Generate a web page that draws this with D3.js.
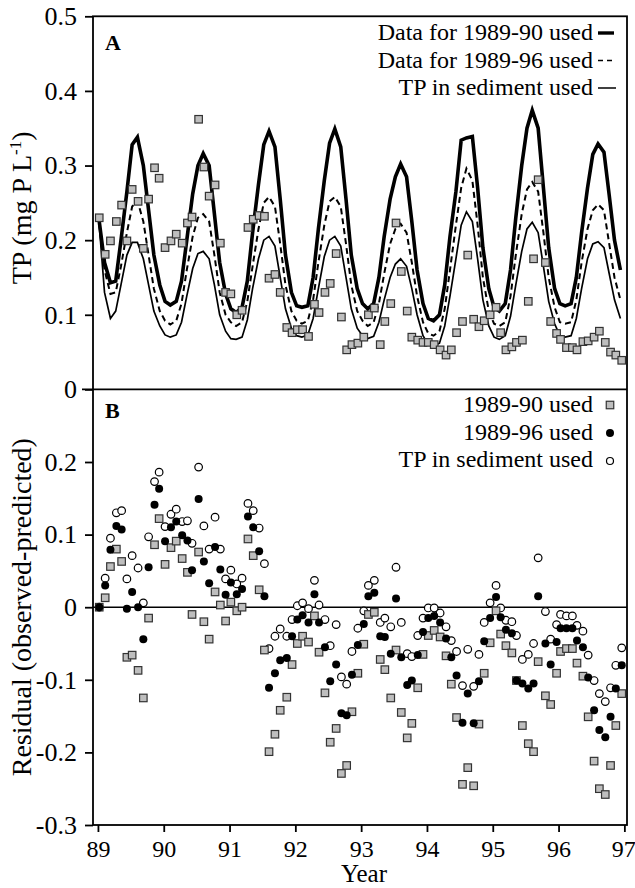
<!DOCTYPE html>
<html>
<head>
<meta charset="utf-8">
<script src="https://cdn.jsdelivr.net/npm/d3@7"></script>
<style>
  body { margin: 0; background: #fff; }
  text { font-family: "Liberation Serif", "Times New Roman", serif; fill: #000; }
</style>
</head>
<body>
<svg id="chart" width="635" height="888"></svg>
<script>
// model output, one value a month
const modelYears = [
  89.02, 89.10, 89.19, 89.27, 89.35, 89.44, 89.52, 89.60, 89.69, 89.77, 89.85, 89.94,
  90.02, 90.10, 90.19, 90.27, 90.35, 90.44, 90.52, 90.60, 90.69, 90.77, 90.85, 90.94,
  91.02, 91.10, 91.19, 91.27, 91.35, 91.44, 91.52, 91.60, 91.69, 91.77, 91.85, 91.94,
  92.02, 92.10, 92.19, 92.27, 92.35, 92.44, 92.52, 92.60, 92.69, 92.77, 92.85, 92.94,
  93.02, 93.10, 93.19, 93.27, 93.35, 93.44, 93.52, 93.60, 93.69, 93.77, 93.85, 93.94,
  94.02, 94.10, 94.19, 94.27, 94.35, 94.44, 94.52, 94.60, 94.69, 94.77, 94.85, 94.94,
  95.02, 95.10, 95.19, 95.27, 95.35, 95.44, 95.52, 95.60, 95.69, 95.77, 95.85, 95.94,
  96.02, 96.10, 96.19, 96.27, 96.35, 96.44, 96.52, 96.60, 96.69, 96.77, 96.85, 96.94
];
const model8990 = [
  0.225, 0.170, 0.143, 0.145, 0.200, 0.265, 0.328, 0.338, 0.300, 0.240, 0.180, 0.140,
  0.118, 0.113, 0.118, 0.145, 0.200, 0.262, 0.300, 0.316, 0.300, 0.235, 0.170, 0.128,
  0.108, 0.103, 0.110, 0.145, 0.210, 0.275, 0.328, 0.346, 0.325, 0.255, 0.180, 0.130,
  0.112, 0.110, 0.112, 0.150, 0.215, 0.280, 0.330, 0.349, 0.325, 0.255, 0.180, 0.135,
  0.115, 0.108, 0.115, 0.150, 0.205, 0.255, 0.285, 0.302, 0.285, 0.225, 0.160, 0.115,
  0.095, 0.092, 0.100, 0.140, 0.205, 0.265, 0.334, 0.337, 0.339, 0.270, 0.190, 0.135,
  0.110, 0.105, 0.115, 0.160, 0.230, 0.300, 0.350, 0.374, 0.350, 0.270, 0.190, 0.135,
  0.115, 0.112, 0.115, 0.150, 0.210, 0.270, 0.315, 0.329, 0.318, 0.260, 0.200, 0.160
];
const model8996 = [
  0.222, 0.160, 0.128, 0.130, 0.165, 0.210, 0.245, 0.253, 0.225, 0.180, 0.135, 0.105,
  0.092, 0.087, 0.092, 0.115, 0.160, 0.205, 0.230, 0.235, 0.225, 0.180, 0.130, 0.100,
  0.090, 0.085, 0.090, 0.118, 0.165, 0.215, 0.250, 0.258, 0.245, 0.195, 0.140, 0.105,
  0.092, 0.088, 0.092, 0.120, 0.170, 0.220, 0.252, 0.258, 0.245, 0.195, 0.140, 0.105,
  0.092, 0.085, 0.090, 0.115, 0.155, 0.195, 0.215, 0.222, 0.210, 0.170, 0.125, 0.090,
  0.075, 0.072, 0.078, 0.108, 0.160, 0.220, 0.270, 0.296, 0.280, 0.220, 0.150, 0.105,
  0.088, 0.085, 0.090, 0.125, 0.180, 0.235, 0.268, 0.278, 0.265, 0.210, 0.150, 0.110,
  0.090, 0.088, 0.090, 0.120, 0.170, 0.215, 0.240, 0.248, 0.240, 0.195, 0.150, 0.120
];
const modelSediment = [
  0.220, 0.130, 0.095, 0.105, 0.140, 0.180, 0.197, 0.197, 0.175, 0.140, 0.105, 0.085,
  0.073, 0.070, 0.073, 0.090, 0.125, 0.162, 0.182, 0.185, 0.175, 0.140, 0.100, 0.078,
  0.068, 0.067, 0.070, 0.093, 0.135, 0.175, 0.200, 0.205, 0.192, 0.150, 0.108, 0.082,
  0.072, 0.070, 0.073, 0.095, 0.135, 0.178, 0.200, 0.205, 0.192, 0.150, 0.108, 0.082,
  0.072, 0.068, 0.071, 0.090, 0.120, 0.150, 0.168, 0.175, 0.165, 0.135, 0.100, 0.072,
  0.060, 0.058, 0.062, 0.085, 0.125, 0.175, 0.220, 0.238, 0.225, 0.175, 0.120, 0.085,
  0.070, 0.067, 0.072, 0.098, 0.140, 0.185, 0.215, 0.224, 0.210, 0.165, 0.118, 0.088,
  0.072, 0.070, 0.072, 0.095, 0.135, 0.175, 0.195, 0.198, 0.190, 0.155, 0.120, 0.095
];

// sampling dates and observed TP
const obsYears = [
  89.02, 89.11, 89.19, 89.28, 89.36, 89.44, 89.52, 89.61, 89.69, 89.77, 89.86, 89.93,
  90.02, 90.11, 90.19, 90.28, 90.36, 90.43, 90.53, 90.61, 90.69, 90.78, 90.86, 90.94,
  91.02, 91.11, 91.19, 91.28, 91.36, 91.45, 91.53, 91.60, 91.69, 91.77, 91.87, 91.95,
  92.03, 92.11, 92.20, 92.29, 92.36, 92.45, 92.53, 92.62, 92.70, 92.78, 92.86, 92.95,
  93.04, 93.11, 93.20, 93.29, 93.36, 93.45, 93.53, 93.61, 93.70, 93.77, 93.86, 93.94,
  94.02, 94.11, 94.20, 94.29, 94.37, 94.45, 94.54, 94.62, 94.71, 94.79, 94.87, 94.96,
  95.05, 95.12, 95.20, 95.29, 95.36, 95.45, 95.54, 95.62, 95.69, 95.80, 95.88, 95.97,
  96.03, 96.12, 96.21, 96.28, 96.37, 96.45, 96.54, 96.62, 96.71, 96.79, 96.87, 96.96
];
const obsTP = [
  0.230, 0.181, 0.199, 0.225, 0.247, 0.199, 0.268, 0.252, 0.189, 0.255, 0.297, 0.283,
  0.190, 0.199, 0.208, 0.196, 0.223, 0.231, 0.362, 0.298, 0.259, 0.274, 0.196, 0.130,
  0.128, 0.100, 0.106, 0.217, 0.228, 0.233, 0.232, 0.149, 0.154, 0.130, 0.083, 0.076,
  0.080, 0.080, 0.071, 0.114, 0.103, 0.130, 0.142, 0.182, 0.097, 0.053, 0.060, 0.062,
  0.070, 0.100, 0.109, 0.060, 0.091, 0.115, 0.223, 0.158, 0.105, 0.070, 0.066, 0.063,
  0.063, 0.060, 0.053, 0.046, 0.053, 0.076, 0.091, 0.180, 0.094, 0.084, 0.092, 0.100,
  0.110, 0.076, 0.053, 0.057, 0.063, 0.066, 0.118, 0.175, 0.281, 0.170, 0.091, 0.075,
  0.067, 0.056, 0.056, 0.053, 0.064, 0.065, 0.070, 0.078, 0.063, 0.050, 0.046, 0.039
];

// residuals (observed - predicted)
const resid8990 = [
  0.000, 0.013, 0.056, 0.080, 0.063, -0.069, -0.066, -0.087, -0.125, -0.015, 0.086, 0.122,
  0.059, 0.082, 0.091, 0.067, 0.048, -0.010, 0.076, -0.020, -0.044, 0.021, 0.003, -0.019,
  0.007, -0.005, 0.000, 0.094, 0.071, 0.024, -0.059, -0.199, -0.175, -0.142, -0.124, -0.079,
  -0.050, -0.040, -0.048, -0.012, -0.062, -0.118, -0.186, -0.167, -0.229, -0.218, -0.144, -0.091,
  -0.051, -0.010, -0.007, -0.072, -0.086, -0.125, -0.059, -0.145, -0.180, -0.160, -0.111, -0.065,
  -0.039, -0.032, -0.041, -0.067, -0.106, -0.152, -0.244, -0.221, -0.246, -0.161, -0.091, -0.049,
  -0.005, -0.037, -0.053, -0.063, -0.101, -0.163, -0.188, -0.199, -0.075, -0.122, -0.134, -0.091,
  -0.061, -0.057, -0.057, -0.077, -0.095, -0.151, -0.212, -0.250, -0.258, -0.218, -0.163, -0.119
];
const resid8996 = [
  0.000, 0.030, 0.079, 0.112, 0.107, -0.002, 0.021, 0.000, -0.044, 0.055, 0.141, 0.163,
  0.091, 0.110, 0.118, 0.099, 0.092, 0.051, 0.149, 0.063, 0.033, 0.083, 0.052, 0.017,
  0.034, 0.018, 0.025, 0.125, 0.110, 0.077, 0.015, -0.111, -0.091, -0.073, -0.070, -0.040,
  -0.017, -0.011, -0.021, 0.018, -0.021, -0.055, -0.102, -0.079, -0.146, -0.149, -0.093, -0.052,
  -0.023, 0.015, 0.020, -0.040, -0.041, -0.064, 0.012, -0.069, -0.107, -0.101, -0.066, -0.034,
  -0.015, -0.012, -0.021, -0.043, -0.069, -0.094, -0.159, -0.119, -0.160, -0.102, -0.047, -0.015,
  0.014, -0.014, -0.031, -0.036, -0.101, -0.105, -0.112, -0.105, 0.015, -0.050, -0.079, -0.048,
  -0.029, -0.029, -0.029, -0.046, -0.055, -0.097, -0.142, -0.169, -0.179, -0.151, -0.112, -0.080
];
const residSediment = [
  0.000, 0.040, 0.095, 0.130, 0.133, 0.039, 0.071, 0.054, 0.006, 0.097, 0.173, 0.186,
  0.111, 0.128, 0.135, 0.118, 0.119, 0.088, 0.193, 0.112, 0.080, 0.124, 0.080, 0.039,
  0.051, 0.032, 0.040, 0.143, 0.133, 0.109, 0.060, -0.057, -0.040, -0.030, -0.040, -0.017,
  0.002, 0.006, -0.002, 0.037, 0.003, -0.017, -0.053, -0.024, -0.096, -0.106, -0.061, -0.029,
  -0.005, 0.030, 0.037, -0.021, -0.015, -0.027, 0.055, -0.021, -0.064, -0.068, -0.039, -0.015,
  -0.001, -0.001, -0.008, -0.027, -0.046, -0.061, -0.108, -0.058, -0.109, -0.065, -0.021, 0.006,
  0.030, -0.001, -0.018, -0.020, -0.039, -0.072, -0.065, -0.050, 0.068, -0.006, -0.044, -0.024,
  -0.010, -0.012, -0.012, -0.025, -0.033, -0.066, -0.101, -0.119, -0.130, -0.111, -0.080, -0.056
];

const yearTicks = [89, 90, 91, 92, 93, 94, 95, 96, 97];
const tpTicks = [0, 0.1, 0.2, 0.3, 0.4, 0.5];
const residTicks = [-0.3, -0.2, -0.1, 0, 0.1, 0.2];
const linesLegend = ["Data for 1989-90 used", "Data for 1989-96 used", "TP in sediment used"];
const pointsLegend = ["1989-90 used", "1989-96 used", "TP in sediment used"];

const svg = d3.select("#chart");
const left = 93, right = 627, topA = 16.3, split = 389.4, bottomB = 825;
const fs = 24;

const x = d3.scaleLinear().domain([88.925, 97.04]).range([left, right]);
const yA = d3.scaleLinear().domain([0, 0.5]).range([split, topA]);
const yB = d3.scaleLinear().domain([-0.3, 0.3]).range([bottomB, split]);

// frame round both panels
svg.append("rect")
  .attr("x", left).attr("y", topA)
  .attr("width", right - left).attr("height", bottomB - topA)
  .attr("fill", "none").attr("stroke", "#000").attr("stroke-width", 1.8);

function styleAxis(size) {
  return g => {
    g.select(".domain").remove();
    g.selectAll(".tick line").attr("stroke", "#000").attr("stroke-width", 1.8);
    g.selectAll(".tick text")
      .attr("font-size", size)
      .attr("font-family", "'Liberation Serif', 'Times New Roman', serif");
  };
}
// plain hyphen for negatives, like the printed figure
const fmt = d => d === 0 ? "0" : d3.format(".1f")(d).replace("\u2212", "-");

svg.append("g")
  .attr("transform", `translate(${left},0)`)
  .call(d3.axisLeft(yA).tickValues(tpTicks).tickSize(8).tickPadding(8).tickFormat(fmt))
  .call(styleAxis(26));

svg.append("g")
  .attr("transform", `translate(${left},0)`)
  .call(d3.axisLeft(yB).tickValues(residTicks).tickSize(8).tickPadding(8).tickFormat(fmt))
  .call(styleAxis(26));

const xAxis = svg.append("g")
  .attr("transform", `translate(0,${bottomB})`)
  .call(d3.axisBottom(x).tickValues(yearTicks).tickSize(7).tickPadding(8).tickFormat(d3.format("d")))
  .call(styleAxis(fs));
// last label sits on the page edge
xAxis.selectAll(".tick text").filter(d => d === 97).attr("text-anchor", "end").attr("x", 11);

// panel divider and the zero line of panel B
svg.append("line")
  .attr("x1", left - 11).attr("x2", right)
  .attr("y1", split).attr("y2", split)
  .attr("stroke", "#000").attr("stroke-width", 1.8);
svg.append("line")
  .attr("x1", left).attr("x2", right)
  .attr("y1", yB(0)).attr("y2", yB(0))
  .attr("stroke", "#000").attr("stroke-width", 1.6);

// axis titles
svg.append("text")
  .attr("transform", `translate(31,${(topA + split) / 2 + 5}) rotate(-90)`)
  .attr("text-anchor", "middle")
  .attr("font-size", 28)
  .html('TP (mg P L<tspan dy="-10" font-size="17">-1</tspan><tspan dy="10">)</tspan>');

svg.append("text")
  .attr("transform", `translate(31,${(split + bottomB) / 2}) rotate(-90)`)
  .attr("text-anchor", "middle")
  .attr("font-size", 28)
  .text("Residual (observed-predicted)");

svg.append("text")
  .attr("x", (left + right) / 2 + 4).attr("y", 882)
  .attr("text-anchor", "middle")
  .attr("font-size", 25)
  .text("Year");

svg.append("text").attr("x", 105).attr("y", 50)
  .attr("font-size", 22).attr("font-weight", "bold").text("A");
svg.append("text").attr("x", 105).attr("y", 418)
  .attr("font-size", 22).attr("font-weight", "bold").text("B");

// panel A: model curves
const modelData = [
  { values: model8990, width: 3.6, dash: null },
  { values: model8996, width: 2, dash: "6,4" },
  { values: modelSediment, width: 1.7, dash: null }
];
const line = d3.line().x(d => x(d[0])).y(d => yA(d[1]));

svg.append("g")
  .selectAll("path")
  .data(modelData)
  .join("path")
  .attr("d", d => line(modelYears.map((t, i) => [t, d.values[i]])))
  .attr("fill", "none")
  .attr("stroke", "#000")
  .attr("stroke-linejoin", "miter")
  .attr("stroke-width", d => d.width)
  .attr("stroke-dasharray", d => d.dash);

// panel A: observed points
const sq = 7.5;
const sqFill = "#bebebe", sqStroke = "#333";
svg.append("g")
  .selectAll("rect")
  .data(obsYears.map((t, i) => [t, obsTP[i]]))
  .join("rect")
  .attr("x", d => x(d[0]) - sq / 2)
  .attr("y", d => yA(d[1]) - sq / 2)
  .attr("width", sq).attr("height", sq)
  .attr("fill", sqFill).attr("stroke", sqStroke).attr("stroke-width", 1.2);

// panel B: residuals
svg.append("g")
  .selectAll("circle")
  .data(obsYears.map((t, i) => [t, residSediment[i]]))
  .join("circle")
  .attr("cx", d => x(d[0])).attr("cy", d => yB(d[1])).attr("r", 3.8)
  .attr("fill", "#fff").attr("stroke", "#000").attr("stroke-width", 1.2);

svg.append("g")
  .selectAll("rect")
  .data(obsYears.map((t, i) => [t, resid8990[i]]))
  .join("rect")
  .attr("x", d => x(d[0]) - sq / 2)
  .attr("y", d => yB(d[1]) - sq / 2)
  .attr("width", sq).attr("height", sq)
  .attr("fill", sqFill).attr("stroke", sqStroke).attr("stroke-width", 1.2);

svg.append("g")
  .selectAll("circle")
  .data(obsYears.map((t, i) => [t, resid8996[i]]))
  .join("circle")
  .attr("cx", d => x(d[0])).attr("cy", d => yB(d[1])).attr("r", 4)
  .attr("fill", "#000");

// legend A
const legA = svg.append("g");
legA.selectAll("text")
  .data(linesLegend)
  .join("text")
  .attr("x", 593).attr("y", (d, i) => 40 + i * 27.5)
  .attr("text-anchor", "end").attr("font-size", fs)
  .text(d => d);
legA.append("line").attr("x1", 598).attr("x2", 614).attr("y1", 33).attr("y2", 33)
  .attr("stroke", "#000").attr("stroke-width", 3.4);
legA.append("line").attr("x1", 598).attr("x2", 616).attr("y1", 60.5).attr("y2", 60.5)
  .attr("stroke", "#000").attr("stroke-width", 1.6).attr("stroke-dasharray", "5,4");
legA.append("line").attr("x1", 598).attr("x2", 616).attr("y1", 88).attr("y2", 88)
  .attr("stroke", "#000").attr("stroke-width", 1.5);

// legend B
const legB = svg.append("g");
legB.selectAll("text")
  .data(pointsLegend)
  .join("text")
  .attr("x", 593).attr("y", (d, i) => 412 + i * 27.5)
  .attr("text-anchor", "end").attr("font-size", fs)
  .text(d => d);
legB.append("rect").attr("x", 610 - sq / 2).attr("y", 405 - sq / 2)
  .attr("width", sq).attr("height", sq)
  .attr("fill", sqFill).attr("stroke", sqStroke).attr("stroke-width", 1.2);
legB.append("circle").attr("cx", 610).attr("cy", 433).attr("r", 4).attr("fill", "#000");
legB.append("circle").attr("cx", 610).attr("cy", 461).attr("r", 3.5)
  .attr("fill", "#fff").attr("stroke", "#000").attr("stroke-width", 1.2);
</script>
</body>
</html>
